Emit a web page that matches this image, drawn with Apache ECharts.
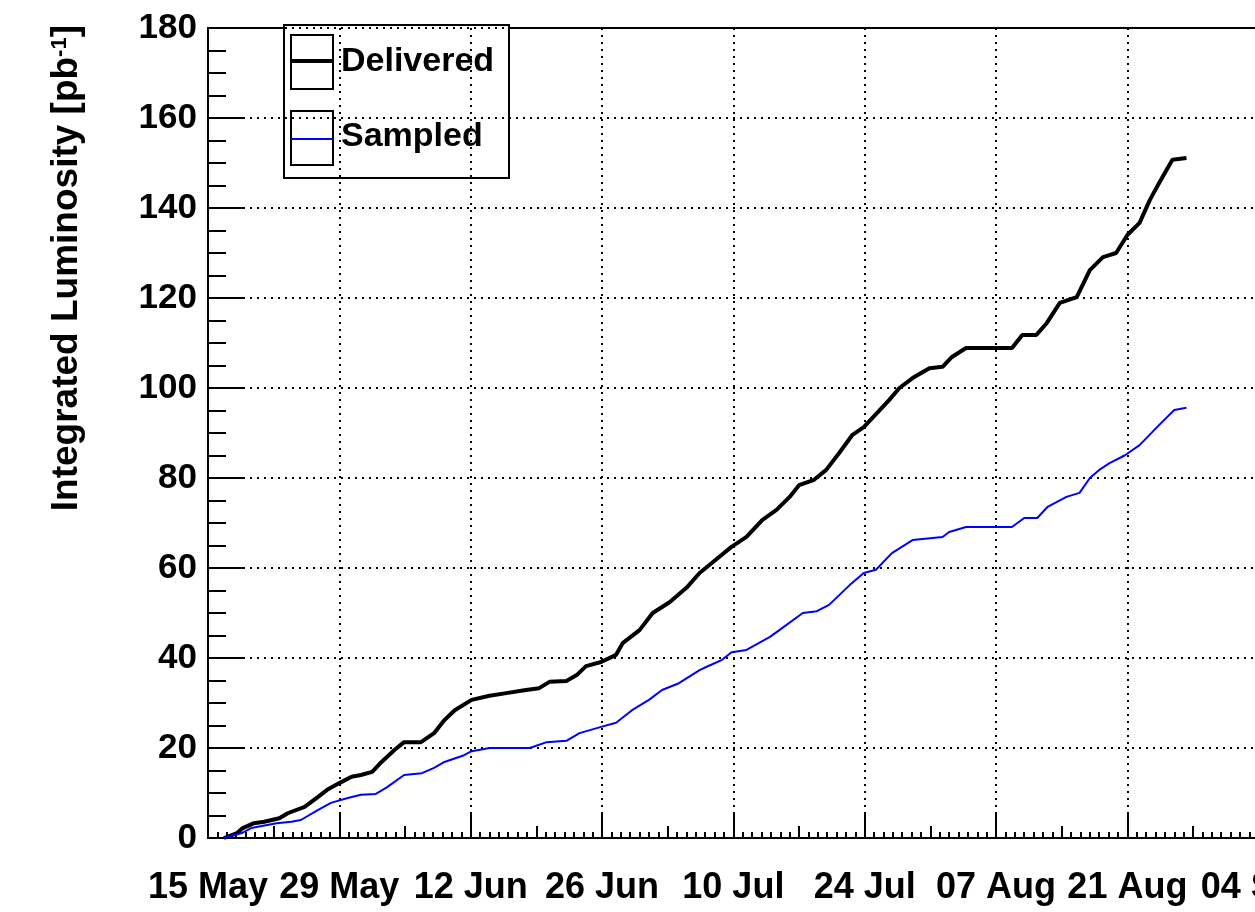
<!DOCTYPE html>
<html>
<head>
<meta charset="utf-8">
<title>Integrated Luminosity</title>
<script src="https://cdn.jsdelivr.net/npm/echarts@6/dist/echarts.min.js"></script>
<style>
  html, body { margin: 0; padding: 0; background: #fff; }
  #chart { width: 1255px; height: 912px; }
</style>
</head>
<body>
<div id="chart"></div>
<script>
// days counted from 15 May
const tickLabels = ['15 May', '29 May', '12 Jun', '26 Jun', '10 Jul', '24 Jul', '07 Aug', '21 Aug', '04 Sep'];

const deliveredDays = [1.7, 3.1, 3.7, 4.9, 6.0, 7.6, 8.5, 10.3, 11.7, 12.7, 14.0, 15.3, 16.3, 17.5, 18.5, 19.9, 20.9, 22.7, 24.1, 25.2,
  26.3, 28.1, 30.0, 31.8, 33.9, 35.3, 36.4, 38.2, 39.3, 40.3, 41.9, 43.5, 44.2, 46.0, 47.4, 49.2, 51.0, 52.4, 53.7, 55.8,
  57.4, 59.1, 60.6, 62.0, 63.0, 64.6, 65.9, 67.3, 68.7, 69.9, 70.8, 72.6, 73.7, 75.1, 76.9, 78.3, 79.3, 80.8, 85.7, 86.8,
  88.3, 89.4, 90.8, 92.6, 94.0, 95.4, 96.8, 98.0, 99.3, 100.4, 101.4, 102.8, 104.3];
const deliveredLumi = [0, 1.1, 2.2, 3.3, 3.6, 4.4, 5.5, 6.9, 9.1, 10.7, 12.2, 13.6, 14.0, 14.7, 16.9, 19.6, 21.3, 21.3, 23.3, 26.2,
  28.4, 30.7, 31.6, 32.2, 32.9, 33.3, 34.7, 34.9, 36.2, 38.2, 39.1, 40.7, 43.3, 46.2, 50.0, 52.4, 55.6, 58.9, 61.1, 64.7,
  66.9, 70.7, 72.9, 75.8, 78.4, 79.6, 81.8, 85.6, 89.6, 91.3, 93.3, 97.3, 100.0, 102.2, 104.4, 104.7, 106.9, 108.9, 108.9, 111.8,
  111.8, 114.4, 118.9, 120.2, 126.2, 129.1, 130.0, 134.0, 136.7, 141.8, 145.6, 150.7, 151.1];

const sampledDays = [1.7, 3.6, 4.6, 7.3, 8.9, 9.9, 11.7, 13.1, 14.9, 16.3, 17.9, 19.1, 20.9, 22.8, 24.1, 25.2, 27.3, 28.1, 30.0, 34.3,
  36.1, 38.2, 39.6, 41.9, 43.5, 45.2, 47.0, 48.4, 50.2, 52.4, 53.1, 54.8, 55.8, 57.4, 59.9, 60.9, 63.4, 64.9, 66.2, 68.4,
  69.9, 71.2, 72.9, 75.1, 78.3, 79.0, 80.8, 85.7, 87.0, 88.4, 89.5, 91.5, 92.9, 94.0, 95.0, 96.1, 97.7, 99.3, 101.4, 103.0, 104.3];
const sampledLumi = [0, 1.1, 2.2, 3.3, 3.6, 4.0, 6.2, 7.8, 8.9, 9.6, 9.8, 11.3, 14.0, 14.4, 15.6, 16.9, 18.4, 19.3, 20.0, 20.0,
  21.3, 21.6, 23.3, 24.7, 25.6, 28.4, 30.7, 32.9, 34.4, 37.3, 38.0, 39.6, 41.3, 41.8, 44.7, 46.2, 50.0, 50.4, 51.8, 56.2,
  58.9, 59.6, 63.3, 66.2, 66.9, 68.0, 69.1, 69.1, 71.1, 71.1, 73.6, 75.8, 76.7, 80.0, 81.8, 83.3, 85.0, 87.3, 91.8, 95.1, 95.6];

const font = 'Liberation Sans';

function pairs(xs, ys) {
    return xs.map((x, i) => [x, ys[i]]);
}

const chart = echarts.init(document.getElementById('chart'));

const option = {
    animation: false,
    backgroundColor: '#fff',
    grid: {
        left: 208,
        top: 28,
        bottom: 74,
        right: -60,
        containLabel: false,
        outerBoundsMode: 'none',
        show: true,
        borderColor: '#000',
        borderWidth: 2,
        backgroundColor: 'transparent'
    },
    xAxis: [{
        type: 'value',
        min: 0,
        max: 118,
        interval: 14,
        axisLine: { onZero: false, lineStyle: { color: '#000', width: 2 } },
        axisTick: { inside: true, length: 25, lineStyle: { color: '#000', width: 2 } },
        minorTick: { show: true, splitNumber: 14, length: 6, lineStyle: { color: '#000', width: 2 } },
        splitLine: { show: true, lineStyle: { color: '#000', width: 2, type: [2, 5] } },
        axisLabel: {
            margin: 32,
            color: '#000',
            fontFamily: font,
            fontWeight: 'bold',
            fontSize: 36,
            showMinLabel: true,
            formatter: v => tickLabels[Math.round(v / 14)] || ''
        }
    }, {
        // half-period ticks (one week)
        type: 'value',
        min: 0,
        max: 118,
        interval: 7,
        position: 'bottom',
        axisLine: { show: false },
        axisTick: { inside: true, length: 12, lineStyle: { color: '#000', width: 2 } },
        axisLabel: { show: false },
        splitLine: { show: false }
    }],
    yAxis: {
        type: 'value',
        min: 0,
        max: 180,
        interval: 20,
        axisLine: { onZero: false, lineStyle: { color: '#000', width: 2 } },
        axisTick: { inside: true, length: 35, lineStyle: { color: '#000', width: 2 } },
        minorTick: { show: true, splitNumber: 4, length: 18, lineStyle: { color: '#000', width: 2 } },
        splitLine: { show: true, lineStyle: { color: '#000', width: 2, type: [2, 5] } },
        axisLabel: {
            margin: 11,
            color: '#000',
            fontFamily: font,
            fontWeight: 'bold',
            fontSize: 35
        }
    },
    series: [{
        name: 'Delivered',
        type: 'line',
        showSymbol: false,
        symbol: 'none',
        lineStyle: { color: '#000', width: 4 },
        data: pairs(deliveredDays, deliveredLumi),
        z: 3
    }, {
        name: 'Sampled',
        type: 'line',
        showSymbol: false,
        symbol: 'none',
        lineStyle: { color: '#0000ff', width: 2 },
        data: pairs(sampledDays, sampledLumi),
        z: 4
    }],
    graphic: [{
        // axis title
        type: 'text',
        x: 67,
        y: 25,
        rotation: Math.PI / 2,
        style: {
            text: 'Integrated Luminosity [pb{sup|-1}]',
            font: 'bold 37px "Liberation Sans"',
            fill: '#000',
            align: 'right',
            verticalAlign: 'middle',
            rich: {
                sup: { font: 'bold 22px "Liberation Sans"', fill: '#000', verticalAlign: 'top', padding: [0, 0, 14, 0] }
            }
        }
    }, {
        // legend frame
        type: 'group',
        left: 283,
        top: 24,
        z: 10,
        children: [
            { type: 'rect', shape: { x: 0, y: 0, width: 225, height: 153 }, style: { fill: '#fff', stroke: '#000', lineWidth: 2 } },
            { type: 'rect', shape: { x: 7, y: 10, width: 42, height: 54 }, style: { fill: 'none', stroke: '#000', lineWidth: 2 } },
            { type: 'line', shape: { x1: 7, y1: 36, x2: 49, y2: 36 }, style: { stroke: '#000', lineWidth: 4 } },
            { type: 'text', x: 57, y: 37, style: { text: 'Delivered', font: 'bold 34px "Liberation Sans"', fill: '#000', verticalAlign: 'middle' } },
            { type: 'rect', shape: { x: 7, y: 86, width: 42, height: 54 }, style: { fill: 'none', stroke: '#000', lineWidth: 2 } },
            { type: 'line', shape: { x1: 7, y1: 114, x2: 49, y2: 114 }, style: { stroke: '#0000ff', lineWidth: 2 } },
            { type: 'text', x: 57, y: 112, style: { text: 'Sampled', font: 'bold 34px "Liberation Sans"', fill: '#000', verticalAlign: 'middle' } }
        ]
    }]
};

chart.setOption(option);
</script>
</body>
</html>
